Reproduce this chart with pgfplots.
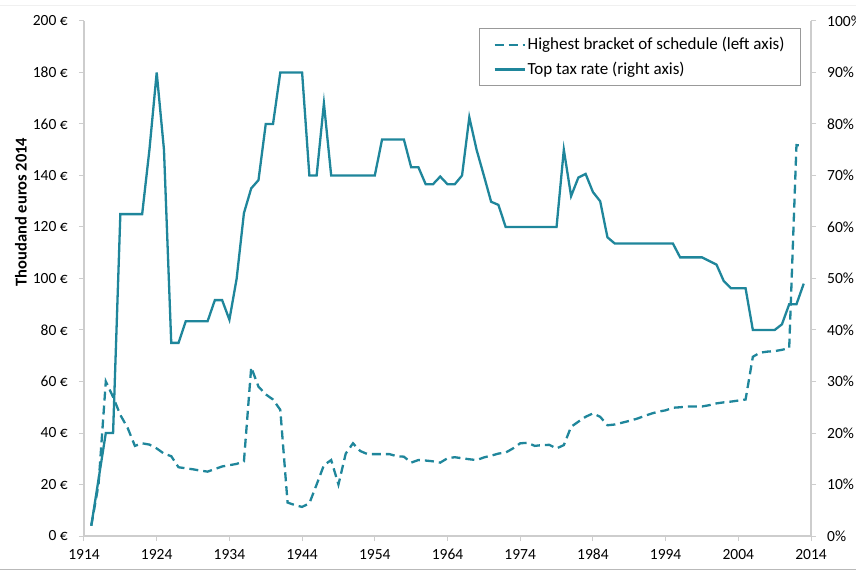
\documentclass[border=0pt]{standalone}
\usepackage{fontspec}
\setmainfont{Carlito}
\usepackage{pgfplots}
\pgfplotsset{compat=1.18}
\definecolor{teal1}{RGB}{31,134,155}
\definecolor{axgray}{RGB}{205,205,205}
\pgfplotsset{
  common/.style={
    scale only axis, width=727pt, height=515pt,
    xmin=1914, xmax=2014,
    font=\fontsize{15.5pt}{18pt}\selectfont,
    tick align=outside,
    major tick length=5pt,
    every tick/.style={axgray, line width=1pt},
    axis line style={-, axgray, line width=1.3pt},
    tick label style={black},
  }
}
\begin{document}
\fontsize{15pt}{18pt}\selectfont
\begin{tikzpicture}
\useasboundingbox (-84pt,-34pt) rectangle (772pt,536pt);
\draw[gray!12, line width=1pt] (-84pt,530pt) -- (772pt,530pt);
\draw[gray!55, line width=1pt] (-84pt,-33pt) -- (772pt,-33pt);
\begin{axis}[common,
  axis x line*=bottom, axis y line*=left,
  ymin=0, ymax=200,
  ytick={0,20,...,200},
  yticklabels={0 €,20 €,40 €,60 €,80 €,100 €,120 €,140 €,160 €,180 €,200 €},
  xtick={1914,1924,...,2014},
  xticklabels={1914,1924,1934,1944,1954,1964,1974,1984,1994,2004,2014},
  ylabel={\bfseries Thoudand euros 2014},
  ylabel style={at={(axis description cs:-0.0867,0.629)}, anchor=center, rotate=0, font=\fontsize{16.5pt}{18pt}\selectfont},
  yticklabel style={xshift=-6pt},
  xticklabel style={yshift=-3pt},
]
\addplot[teal1, line width=2.3pt, dash pattern=on 9pt off 5pt] table {
x y
1915 4
1916 20
1917 60
1918 54
1919 47
1920 42
1921 35
1922 36
1923 35.5
1924 34
1925 32
1926 31
1927 26.7
1928 26.3
1929 25.9
1930 25.4
1931 25
1932 26
1933 27
1934 27.5
1935 28
1936 29
1937 65.5
1938 58
1939 55
1940 53
1941 49
1942 13
1943 12
1944 11.3
1945 12.7
1946 20
1947 27.5
1948 29.5
1949 20
1950 32
1951 36
1952 33
1953 31.8
1954 31.8
1955 31.8
1956 31.8
1957 31
1958 30.8
1959 28.5
1960 29.5
1961 29.3
1962 29
1963 28.5
1964 30.2
1965 30.6
1966 30.2
1967 29.8
1968 29.5
1969 30.5
1970 31.2
1971 32
1972 32.4
1973 34
1974 36
1975 36.2
1976 35
1977 35.3
1978 35.4
1979 34
1980 35.3
1981 42.4
1982 44.4
1983 46.3
1984 47.6
1985 46.3
1986 43
1987 43.3
1988 44
1989 44.7
1990 45.5
1991 46.5
1992 47.5
1993 48.3
1994 48.8
1995 49.8
1996 50
1997 50.3
1998 50.3
1999 50.3
2000 50.8
2001 51.5
2002 51.9
2003 52.2
2004 52.6
2005 53
2006 69.6
2007 71.2
2008 71.6
2009 71.8
2010 72.3
2011 73
2012 151.8
2013 151.5
};
\end{axis}
\begin{axis}[common,
  axis x line=none, axis y line*=right,
  ymin=0, ymax=100,
  ytick={0,10,...,100},
  yticklabels={0\%,10\%,20\%,30\%,40\%,50\%,60\%,70\%,80\%,90\%,100\%},
  yticklabel style={xshift=6pt},
  legend image code/.code={\draw[#1] (0pt,0pt) -- (30pt,0pt);},
  legend cell align=left,
  legend style={at={(0.5433,0.9864)}, anchor=north west, draw=gray!80, line width=0.8pt,
    inner xsep=14pt, inner ysep=7pt, row sep=6pt, nodes={inner sep=2pt},
    font=\fontsize{17pt}{20pt}\selectfont},
]
\addlegendimage{teal1, line width=2.3pt, dash pattern=on 9pt off 5pt}
\addlegendentry{Highest bracket of schedule (left axis)}
\addplot[teal1, line width=2.3pt] table {
x y
1915 2
1916 11
1917 20
1918 20
1919 62.5
1920 62.5
1921 62.5
1922 62.5
1923 75
1924 90
1925 75
1926 37.5
1927 37.5
1928 41.7
1929 41.7
1930 41.7
1931 41.7
1932 45.8
1933 45.8
1934 42
1935 50
1936 62.7
1937 67.5
1938 69.1
1939 80
1940 80
1941 90
1942 90
1943 90
1944 90
1945 70
1946 70
1947 84
1948 70
1949 70
1950 70
1951 70
1952 70
1953 70
1954 70
1955 77
1956 77
1957 77
1958 77
1959 71.6
1960 71.6
1961 68.3
1962 68.3
1963 69.8
1964 68.3
1965 68.3
1966 70
1967 81.3
1968 75
1969 70
1970 64.9
1971 64.3
1972 60
1973 60
1974 60
1975 60
1976 60
1977 60
1978 60
1979 60
1980 75
1981 66
1982 69.6
1983 70.3
1984 66.8
1985 65
1986 58
1987 56.8
1988 56.8
1989 56.8
1990 56.8
1991 56.8
1992 56.8
1993 56.8
1994 56.8
1995 56.8
1996 54.1
1997 54.1
1998 54.1
1999 54.1
2000 53.4
2001 52.7
2002 49.5
2003 48.1
2004 48.1
2005 48.1
2006 40
2007 40
2008 40
2009 40
2010 41.1
2011 45
2012 45
2013 49
};
\addlegendentry{Top tax rate (right axis)}
\end{axis}
\end{tikzpicture}
\end{document}
